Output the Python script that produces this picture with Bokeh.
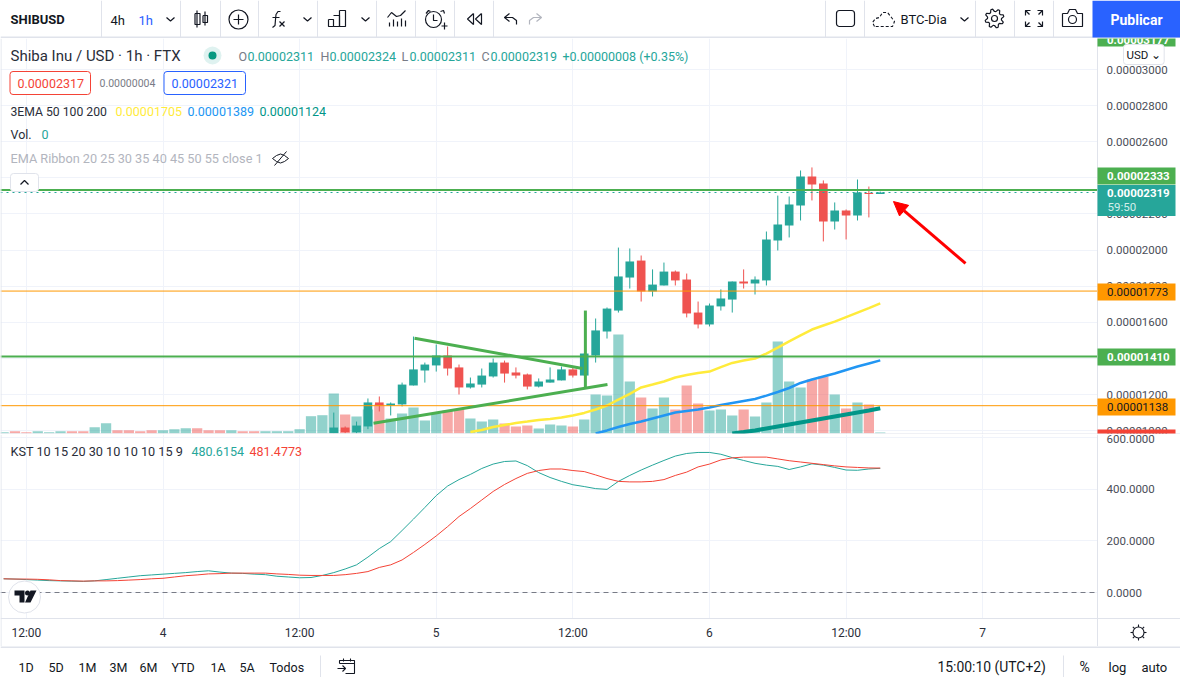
import numpy as np
from bokeh.embed import file_html
from bokeh.resources import INLINE
from bokeh.layouts import column
from bokeh.models import (Range1d, FixedTicker, PrintfTickFormatter, Label,
                          Arrow, NormalHead, ColumnDataSource)
from bokeh.plotting import figure

PRICE_UNIT = 1e-8
candle_hours = list(range(15, 64))
opens = [986, 1017, 991, 1023, 1156, 1139, 1145, 1250, 1333, 1361, 1416, 1350, 1239, 1255, 1300, 1377, 1322, 1311, 1244, 1266, 1278, 1339, 1305, 1416, 1549, 1665, 1848, 1942, 1771, 1804, 1881, 1837, 1654, 1588, 1688, 1726, 1826, 1815, 1832, 2053, 2136, 2247, 2408, 2369, 2158, 2219, 2192, 2317, 2311]
highs = [1100, 1023, 1050, 1178, 1189, 1156, 1266, 1521, 1377, 1477, 1466, 1366, 1294, 1344, 1399, 1388, 1350, 1316, 1289, 1350, 1355, 1350, 1427, 1621, 1682, 2014, 2009, 1970, 1893, 1931, 1887, 1870, 1715, 1704, 1782, 1826, 1893, 1854, 2103, 2302, 2297, 2441, 2458, 2386, 2264, 2225, 2391, 2352, 2324]
lows = [986, 986, 986, 1008, 1106, 1084, 1134, 1250, 1266, 1327, 1305, 1200, 1233, 1239, 1294, 1266, 1289, 1228, 1239, 1266, 1278, 1294, 1305, 1377, 1510, 1654, 1787, 1715, 1743, 1804, 1804, 1627, 1566, 1577, 1665, 1654, 1787, 1754, 1804, 1998, 2070, 2164, 2275, 2048, 2114, 2059, 2164, 2181, 2311]
closes = [1017, 991, 1028, 1156, 1139, 1150, 1255, 1339, 1366, 1416, 1344, 1239, 1261, 1305, 1377, 1316, 1305, 1244, 1272, 1283, 1339, 1305, 1427, 1555, 1676, 1854, 1937, 1771, 1809, 1881, 1832, 1649, 1588, 1693, 1732, 1826, 1815, 1837, 2059, 2142, 2253, 2408, 2363, 2158, 2219, 2192, 2319, 2311, 2319]

volume_hours = list(range(-14, 64))
volumes = [1, 2, 1, 2, 1, 2, 2, 2, 6, 10, 3, 3, 2, 3, 3, 4, 5, 5, 3, 3, 3, 2, 2, 2, 2, 2, 4, 17, 18, 39.7, 18.7, 16.7, 23.7, 28.7, 14.7, 19.7, 25.7, 12.7, 19.7, 22.7, 24, 14.7, 11.7, 13.7, 9.7, 6.7, 7.7, 4.7, 8.7, 7.7, 6.7, 13.7, 38.7, 37.7, 98.7, 51.7, 35.7, 24.7, 35.7, 23.7, 47.7, 29.7, 22.7, 23.7, 17.7, 23.7, 16.7, 30.7, 91.7, 51.7, 45.7, 53.7, 56.7, 38.7, 24.7, 30.7, 28.7, 0.7]
volume_side = [
    'u','d','d','u','u','u','d','d','u','u','d','d','d','d','u','u','u','d','d','d','u','d','d','u','u','u','u','u','u','u',
    'd','u','u','d','u','u','u','u','u','d','d','u','u','u','d','d','d','u','u','u','d','u','u','u','u','u','d','u','u','d',
    'd','d','u','u','u','d','u','u','u','u','u','d','d','u','d','u','d','u']

ema50_hours = list(range(27, 64))
ema50 = [992, 1003, 1020, 1031, 1042, 1050, 1059, 1064, 1073, 1084, 1098, 1117, 1139, 1172, 1203, 1239, 1255, 1272, 1294, 1308, 1319, 1327, 1352, 1375, 1388, 1399, 1427, 1460, 1494, 1527, 1560, 1582, 1604, 1629, 1654, 1679, 1705]
ema100_hours = list(range(38, 64))
ema100 = [984, 1001, 1020, 1037, 1050, 1067, 1084, 1100, 1109, 1117, 1128, 1142, 1153, 1164, 1175, 1194, 1214, 1236, 1264, 1283, 1300, 1316, 1336, 1355, 1372, 1389]
ema200_hours = list(range(50, 64))
ema200 = [984, 992, 1001, 1012, 1023, 1034, 1045, 1056, 1067, 1078, 1089, 1100, 1111, 1124]

kst_hours = list(range(-14, 64))
kst_line = [53, 52, 50, 48, 46, 45, 44, 43, 45, 50, 55, 60, 65, 68, 71, 74, 77, 81, 84, 79, 75, 74, 71, 69, 63, 60, 57, 58, 66, 77, 91, 107, 137, 170, 197, 240, 284, 329, 375, 412, 437, 457, 480, 497, 507, 509, 491, 464, 445, 430, 417, 410, 402, 399, 430, 453, 474, 493, 511, 528, 538, 542, 542, 535, 522, 511, 500, 493, 488, 476, 486, 498, 493, 484, 474, 473, 478, 480.6154]
kst_signal = [53, 52, 52, 51, 49, 46, 45, 44, 45, 45, 46, 48, 50, 53, 55, 60, 65, 68, 72, 73, 75, 75, 75, 75, 72, 70, 67, 66, 66, 66, 69, 74, 81, 97, 107, 126, 155, 186, 219, 255, 294, 325, 358, 391, 418, 441, 461, 472, 478, 478, 472, 468, 455, 441, 430, 428, 428, 430, 437, 453, 466, 486, 497, 513, 521, 524, 524, 524, 517, 510, 505, 500, 495, 490, 486, 484, 482, 481.4773]

price_ticks = [1000, 1200, 1400, 1600, 1800, 2000, 2200, 2400, 2600, 2800, 3000]
kst_ticks = [0, 200, 400, 600]
time_ticks = [-12, 0, 12, 24, 36, 48, 60, 72]
time_labels = ["12:00", "4", "12:00", "5", "12:00", "6", "12:00", "7"]

hline_levels = [2333, 2319, 1773, 1410, 1138]
tri_upper_t, tri_upper_p = [22.09, 36.85], [1512, 1344]
tri_lower_t, tri_lower_p = [18.49, 39.04], [1041, 1255]
pole_t, pole_p = [37.1, 37.1], [1665, 1239]
arrow_t, arrow_p = (70.49, 64.16), (1926, 2269)

TEAL, RED = "#26a69a", "#ef5350"
GREEN, ORANGE = "#4caf50", "#ff9800"
INK, GREY, LINE, GRID = "#131722", "#787b86", "#e0e3eb", "#f0f3fa"
FONT = "Roboto"

# reference-pixel helpers for furniture (legends, icons, value tags)
def X(x): return (x - 162.5) / 11.385
def PY(y): return (1200 + (394 - y) * 5.54) * PRICE_UNIT
def KY(y): return (592 - y) * 3.87

def text(fig, x, y, s, color=INK, size=12.5, style="normal", align="left", font=FONT, **kw):
    fig.add_layout(Label(x=x, y=y, text=s, text_color=color, text_font=font,
                         text_font_size=f"{size}px", text_font_style=style,
                         text_align=align, text_baseline="middle", **kw))

def band(fig, x0, x1, y0, y1, color, width):
    fig.add_layout(Arrow(end=None, x_start=x0, x_end=x1, y_start=y0, y_end=y1,
                         line_color=color, line_width=width))

def chrome(h, y0, y1):
    f = figure(width=1180, height=h, x_range=Range1d(0, 1180), y_range=Range1d(y1, y0),
               x_axis_type=None, y_axis_type=None, tools="", toolbar_location=None,
               output_backend="svg", min_border=0, outline_line_color=None,
               background_fill_color="white")
    f.grid.visible = False
    return f

# ------------------------------------------------------------------ toolbar
top = chrome(38, 0, 38)
top.segment(x0=[0], x1=[1180], y0=[37], y1=[37], line_color=LINE, line_width=2)
seps = [101, 180, 220, 258, 317, 376, 415, 454, 493, 825, 864, 975, 1014, 1053]
top.segment(x0=seps, x1=seps, y0=[0] * len(seps), y1=[37] * len(seps), line_color=LINE, line_width=1)
top.quad(left=[1092], right=[1180], top=[0], bottom=[37], fill_color="#2962ff", line_color=None)
text(top, 10, 19, "SHIBUSD", style="bold", size=13)
text(top, 110, 19.5, "4h", size=13)
text(top, 138, 19.5, "1h", color="#2962ff", size=13)
text(top, 900, 18.5, "BTC-Dia", size=13)
text(top, 1136, 19, "Publicar", color="white", size=14, align="center", style="bold")

icons = [
    [[196.5, 196.5], [10, 27]], [[204.5, 204.5], [11, 25]],
    [[194.5, 199.5, 199.5, 194.5, 194.5], [13, 13, 24, 24, 13]],
    [[202.5, 207, 207, 202.5, 202.5], [15, 15, 22, 22, 15]],
    [[238, 238], [14, 24]], [[233, 243], [19, 19]],
    [[280, 277.5, 275.5, 275, 274.5, 272], [11, 11, 14, 19, 25, 27]], [[272, 279], [17, 17]],
    [[279, 284], [21, 26]], [[284, 279], [21, 26]],
    [[328, 333, 333, 328, 328], [19, 19, 26, 26, 19]],
    [[333, 339, 339, 333], [15, 15, 26, 26]],
    [[339, 345, 345, 339, 339], [10, 10, 26, 26, 10]],
    [[387, 391, 396, 400, 405], [17, 12, 16, 15, 10]],
    [[389, 389], [22, 26]], [[393, 393], [19, 26]], [[397, 397], [21, 26]], [[401, 401], [18, 26]], [[405, 405], [20, 26]],
    [[433, 433, 437], [14, 20, 20]], [[425.5, 428, 430], [13, 10, 11]], [[440, 443, 444], [11, 10, 13]],
    [[441, 447], [25.5, 25.5]], [[444, 444], [22, 29]],
    [[473, 467, 473, 473], [13, 18.5, 24, 13]], [[481, 475, 481, 481], [13, 18.5, 24, 13]],
    [[509, 504, 509], [13, 17, 21]], [[504, 512, 516, 516], [17, 17, 20, 24]],
    [[1025, 1025, 1030], [15, 10, 10]], [[1025, 1029], [10, 14]],
    [[1037, 1042, 1042], [10, 10, 15]], [[1042, 1038], [10, 14]],
    [[1025, 1025, 1030], [21, 26, 26]], [[1025, 1029], [26, 22]],
    [[1037, 1042, 1042], [26, 26, 21]], [[1042, 1038], [26, 22]],
    [[1062, 1067, 1069, 1075, 1077, 1082, 1082, 1062, 1062], [13, 13, 9, 9, 13, 13, 26, 26, 13]],
]
for cx in (170, 307, 365, 964):
    icons.append([[cx - 4, cx, cx + 4], [17, 20.5, 17]])
gear_a = np.linspace(0, 2 * np.pi, 33)
gear_r = np.where(np.arange(33) % 4 < 2, 9.5, 7)
icons.append([list(994 + gear_r * np.sin(gear_a + 0.2)), list(18 + gear_r * np.cos(gear_a + 0.2))])
top.multi_line([i[0] for i in icons], [i[1] for i in icons], line_color=INK, line_width=1.2)
top.quad(left=[836], right=[854], top=[10], bottom=[26], fill_color=None, line_color=INK, line_width=1.2, border_radius=3)
top.multi_line([[536, 541, 536], [541, 533, 529, 529]], [[13, 17, 21], [17, 17, 20, 24]], line_color="#b2b5be", line_width=1.2)
top.line([874, 872, 875, 879, 882, 887, 891, 894, 892, 874], [26, 22, 18, 17, 12, 12, 17, 21, 26, 26],
         line_color=INK, line_width=1.1, line_dash="3 2")
top.scatter([238, 433, 994, 1072], [19, 19, 18, 19], size=[19, 16, 6, 8], marker="circle", fill_color=None, line_color=INK, line_width=1.2)

def pane(h, ymin, ymax, xloc):
    f = figure(width=1180, height=h, x_range=Range1d(X(0), X(1180)), y_range=Range1d(ymin, ymax),
               x_axis_location=xloc, y_axis_location="right", tools="", toolbar_location=None,
               output_backend="svg", min_border=0, outline_line_color=None, background_fill_color="white")
    f.xgrid.ticker = FixedTicker(ticks=time_ticks)
    f.xgrid.grid_line_color = GRID
    f.ygrid.grid_line_color = GRID
    return f

def scale_axis(f, ticks, fmt):
    f.ygrid.ticker = FixedTicker(ticks=ticks)
    a = f.yaxis[0]
    a.fixed_location = X(1098)
    a.ticker = FixedTicker(ticks=ticks)
    a.formatter = PrintfTickFormatter(format=fmt)
    a.major_tick_line_color = None
    a.minor_tick_line_color = None
    a.axis_line_color = None
    a.major_label_standoff = 2
    a.major_label_text_font = FONT
    a.major_label_text_font_size = "11.5px"
    a.major_label_text_color = "#4a4e58"
    return a

# ------------------------------------------------------------------ price pane
price = pane(396, PY(434), PY(38), None)
price.quad(left=[X(1097)], right=[X(1180)], bottom=[PY(434)], top=[PY(38)], fill_color="white", line_color=None)
scale_axis(price, [v * PRICE_UNIT for v in price_ticks], "%.8f")

price.extra_y_ranges = {"vol": Range1d(-1.3, 394.7)}
vol_src = ColumnDataSource(dict(t=volume_hours, v=volumes,
                                c=[TEAL if s == "u" else RED for s in volume_side]))
price.vbar(x="t", top="v", bottom=0, width=0.9, source=vol_src, y_range_name="vol",
           fill_color="c", fill_alpha=0.5, line_color=None)

op, hi, lo, cl = [np.array(a) * PRICE_UNIT for a in (opens, highs, lows, closes)]
colors = [TEAL if c >= o else RED for o, c in zip(opens, closes)]
csrc = ColumnDataSource(dict(t=candle_hours, o=op, h=hi, l=lo, c=cl,
                             top=np.maximum(op, cl), bot=np.minimum(op, cl), col=colors))
price.segment(x0="t", x1="t", y0="l", y1="h", source=csrc, line_color="col", line_width=1)
price.vbar(x="t", top="top", bottom="bot", width=0.76, source=csrc, fill_color="col", line_color=None)

price.line(ema50_hours, np.array(ema50) * PRICE_UNIT, line_color="#ffeb3b", line_width=2.5)
price.line(ema100_hours, np.array(ema100) * PRICE_UNIT, line_color="#2196f3", line_width=2.5)
price.line(ema200_hours, np.array(ema200) * PRICE_UNIT, line_color="#009688", line_width=4)

hstyles = [(GREEN, 2, "solid"), (TEAL, 1, "dotted"), (ORANGE, 1, "solid"), (GREEN, 2, "solid"), (ORANGE, 1, "solid")]
for lev, (c, w, d) in zip(hline_levels, hstyles):
    price.segment(x0=[X(0)], x1=[X(1097)], y0=[lev * PRICE_UNIT], y1=[lev * PRICE_UNIT],
                  line_color=c, line_width=w, line_dash=d)

for tt, pp in ((tri_upper_t, tri_upper_p), (tri_lower_t, tri_lower_p), (pole_t, pole_p)):
    price.line(tt, np.array(pp) * PRICE_UNIT, line_color=GREEN, line_width=3)
price.add_layout(Arrow(end=NormalHead(size=14, fill_color="#ff0000", line_color="#ff0000"),
                       x_start=arrow_t[0], y_start=arrow_p[0] * PRICE_UNIT,
                       x_end=arrow_t[1], y_end=arrow_p[1] * PRICE_UNIT,
                       line_color="#ff0000", line_width=3))

band(price, X(1097), X(1097), PY(38), PY(434), LINE, 1)
band(price, X(0), X(1180), PY(433.5), PY(433.5), LINE, 1)
band(price, X(0.5), X(0.5), PY(38), PY(434), LINE, 1)

def tag(yc, h, bg, s=None, color="white", style="normal"):
    band(price, X(1097), X(1175), PY(yc), PY(yc), bg, h)
    if s:
        text(price, X(1106.5), PY(yc), s, color=color, size=11.5, style=style)

tag(39, 14, GREEN, "0.00003177", style="bold")
tag(175.5, 17, GREEN, "0.00002333", style="bold")
band(price, X(1097), X(1175), PY(200), PY(200), TEAL, 31)
text(price, X(1106.5), PY(192), "0.00002319", color="white", size=11.5, style="bold")
text(price, X(1107), PY(206), "59:50", color="#d3eeea", size=11.5)
tag(291.5, 17, ORANGE, "0.00001773", color=INK)
tag(356.5, 17, GREEN, "0.00001410", style="bold")
tag(406.5, 17, ORANGE, "0.00001138", color=INK)
tag(431, 4, "#f44336")
price.add_layout(Label(x=X(1123), y=PY(54), text="USD ⌄", text_font=FONT, text_font_size="11.5px",
                       text_color=INK, text_baseline="middle", background_fill_color="white",
                       border_line_color=LINE, padding=3, border_radius=3))

# legends
text(price, X(10), PY(55), "Shiba Inu / USD · 1h · FTX", size=15, color="#2a2e39")
price.scatter([X(212)], [PY(55)], size=18, marker="circle", fill_color="#26a69a", fill_alpha=0.15, line_color=None)
price.scatter([X(212)], [PY(55)], size=8, marker="circle", fill_color="#089981", line_color=None)
for lx, s, vx, v in ((238, "O", 247, "0.00002311"), (320, "H", 329, "0.00002324"),
                     (401, "L", 409, "0.00002311"), (481, "C", 490, "0.00002319")):
    text(price, X(lx), PY(56), s, color=GREY)
    text(price, X(vx), PY(56), v, color=TEAL)
text(price, X(562), PY(56), "+0.00000008 (+0.35%)", color=TEAL)
price.quad(left=[X(9.5), X(163.5)], right=[X(90), X(245)], top=[PY(71), PY(71)], bottom=[PY(94), PY(94)],
           fill_color="white", line_color=["#f44336", "#2962ff"], line_width=1, border_radius=3)
text(price, X(17), PY(83), "0.00002317", color="#f44336")
text(price, X(99), PY(82), "0.00000004", color=GREY, size=10.5)
text(price, X(171), PY(83), "0.00002321", color="#2962ff")
text(price, X(10), PY(111), "3EMA 50 100 200", color="#2a2e39", size=12.2)
text(price, X(115), PY(111), "0.00001705", color="#ffeb3b")
text(price, X(187), PY(111), "0.00001389", color="#2196f3")
text(price, X(259), PY(111), "0.00001124", color="#009688")
text(price, X(10), PY(134), "Vol.", color="#2a2e39")
text(price, X(41), PY(134), "0", color=TEAL)
text(price, X(10), PY(158), "EMA Ribbon 20 25 30 35 40 45 50 55 close 1", color="#b2b5be", size=12.7)
price.multi_line([[X(272), X(276), X(280), X(284), X(288), X(284), X(280), X(276), X(272)], [X(274), X(286)]],
                 [[PY(158), PY(155), PY(153.5), PY(155), PY(158), PY(161), PY(162.5), PY(161), PY(158)], [PY(165), PY(151)]],
                 line_color=INK, line_width=1)
price.quad(left=[X(10)], right=[X(38)], top=[PY(173)], bottom=[PY(191)], fill_color="white",
           line_color=LINE, border_radius=3)
price.line([X(20), X(24), X(28)], [PY(184), PY(180), PY(184)], line_color=INK, line_width=1.2)

# ------------------------------------------------------------------ KST pane + time scale
kst = pane(212, KY(646), KY(434), "below")
kst.quad(left=[X(1097)], right=[X(1180)], bottom=[KY(646)], top=[KY(434)], fill_color="white", line_color=None)
kst.quad(left=[X(0)], right=[X(1180)], bottom=[KY(646)], top=[KY(618)], fill_color="white", line_color=None)
scale_axis(kst, kst_ticks, "%.4f")
bax = kst.xaxis[0]
bax.fixed_location = KY(618)
bax.ticker = FixedTicker(ticks=time_ticks)
bax.major_label_overrides = dict(zip(time_ticks, time_labels))
bax.major_tick_line_color = None
bax.minor_tick_line_color = None
bax.axis_line_color = None
bax.major_label_standoff = 1
bax.major_label_text_font = FONT
bax.major_label_text_font_size = "12px"
bax.major_label_text_color = "#2a2e39"

kst.segment(x0=[X(0)], x1=[X(1097)], y0=[0], y1=[0], line_color=GREY, line_width=1, line_dash="5 4")
kst.line(kst_hours, kst_line, line_color=TEAL, line_width=1)
kst.line(kst_hours, kst_signal, line_color="#f44336", line_width=1)
text(kst, X(10), KY(450.5), "KST 10 15 20 30 10 10 10 15 9", color="#2a2e39", size=12.7)
text(kst, X(191), KY(450.5), "480.6154", color=TEAL)
text(kst, X(249), KY(450.5), "481.4773", color="#f44336")

# logo
kst.scatter([X(24)], [KY(596.5)], size=32, marker="circle", fill_color="white", line_color=LINE, line_width=1)
kst.patches([[X(14), X(24), X(24), X(19), X(19), X(14)], [X(30), X(36), X(30), X(24.5)]],
            [[KY(590), KY(590), KY(602), KY(602), KY(595), KY(595)], [KY(590), KY(590), KY(602), KY(602)]],
            fill_color=INK, line_color=None)
kst.scatter([X(27)], [KY(592.5)], size=5, marker="circle", fill_color=INK, line_color=None)

band(kst, X(1097), X(1097), KY(434), KY(646), LINE, 1)
band(kst, X(0), X(1180), KY(618), KY(618), LINE, 1)
band(kst, X(0.5), X(0.5), KY(434), KY(646), LINE, 1)
kst.scatter([X(1138)], [KY(632)], size=11, marker="circle", fill_color="white", line_color=INK, line_width=1.1)
sun = np.linspace(0, 2 * np.pi, 9)[:-1]
kst.multi_line([[X(1138 + 5.5 * np.cos(a)), X(1138 + 8 * np.cos(a))] for a in sun],
               [[KY(632 + 5.5 * np.sin(a)), KY(632 + 8 * np.sin(a))] for a in sun], line_color=INK, line_width=1.1)

# ------------------------------------------------------------------ bottom bar
bot = chrome(31, 646, 677)
bot.segment(x0=[0], x1=[1180], y0=[646.5], y1=[646.5], line_color=LINE, line_width=2)
bot.segment(x0=[320, 1063], x1=[320, 1063], y0=[655, 655], y1=[677, 677], line_color=LINE, line_width=1)
for bx, s in ((18, "1D"), (48, "5D"), (78, "1M"), (109, "3M"), (139, "6M"), (171, "YTD"), (210, "1A"), (239, "5A"), (269, "Todos")):
    text(bot, bx, 666.5, s, size=12.5)
text(bot, 937, 666.5, "15:00:10 (UTC+2)", size=13.9)
text(bot, 1079, 666.5, "%", size=14)
text(bot, 1108, 666.5, "log", size=13)
text(bot, 1141, 666.5, "auto", size=13)
bot.multi_line([[339, 339, 354, 354, 345], [339, 354], [343, 343], [350, 350], [337, 345], [342, 345, 342]],
               [[663, 660, 660, 673, 673], [663, 663], [658, 661], [658, 661], [668, 668], [665, 668, 671]],
               line_color=INK, line_width=1.1)

layout = column(top, price, kst, bot, spacing=0)
open("out.html", "w").write(file_html(layout, INLINE))
